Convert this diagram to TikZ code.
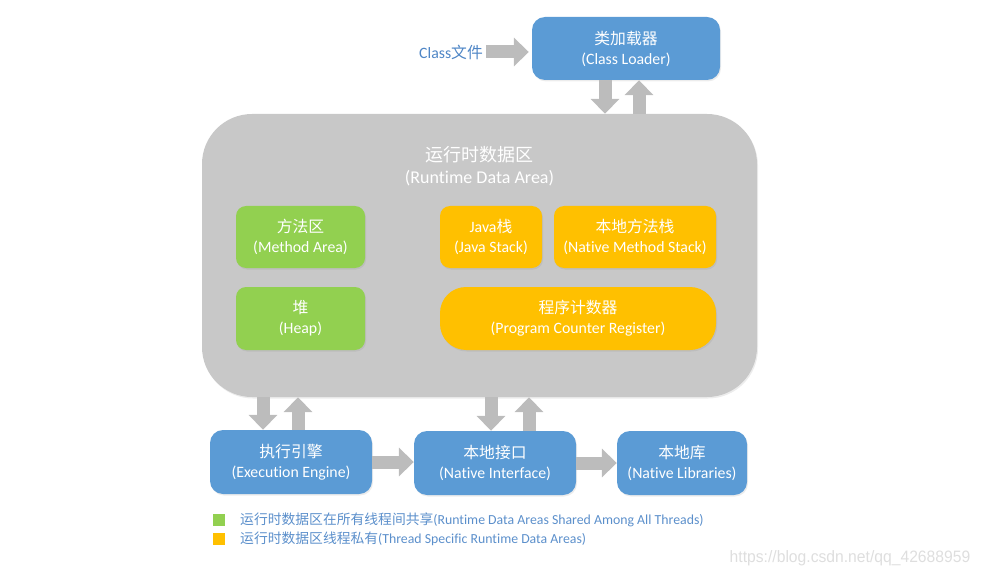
\documentclass[tikz,border=0pt]{standalone}
\usepackage{fontspec}
\setmainfont[Ligatures=CommonOff]{Carlito}
\newfontfamily\cjk{Noto Sans CJK SC}
\newfontfamily\wmfont{Liberation Sans}
\usetikzlibrary{arrows.meta,shadows}
\definecolor{boxblue}{HTML}{5B9BD5}
\definecolor{rdagray}{HTML}{C8C8C8}
\definecolor{boxgreen}{HTML}{92D050}
\definecolor{boxorange}{HTML}{FFC000}
\definecolor{arrowgray}{HTML}{BCBCBC}
\definecolor{labelblue}{HTML}{4F86C6}
\definecolor{legendblue}{HTML}{5B8FCB}
\definecolor{wmgray}{HTML}{DEDEDE}
\begin{document}
\begin{tikzpicture}[x=1pt,y=-1pt,
  box/.style={rounded corners=#1, text=white, align=center, inner sep=0pt,
    font=\fontsize{15.8}{20}\selectfont,
    drop shadow={opacity=0.15, shadow xshift=1pt, shadow yshift=-1.5pt}},
  bluebox/.style={box=13pt, fill=boxblue},
  greenbox/.style={box=10pt, fill=boxgreen},
  orangebox/.style={box=10pt, fill=boxorange},
  barrow/.style={draw=arrowgray, line width=13pt, -{Triangle[length=15pt,width=28pt]}},
  legsq/.style={minimum size=12pt, inner sep=0pt},
  legtext/.style={anchor=west, inner sep=0pt, text=legendblue, font=\fontsize{13.8}{16}\selectfont}
]
\useasboundingbox (0,0) rectangle (981,577);

% Class file label and class loader
\node[bluebox, minimum width=188pt, minimum height=63pt] (cl) at (626,48.5)
  {{\cjk 类加载器}\\(Class Loader)};
\node[anchor=east, inner sep=0pt, text=labelblue, font=\fontsize{15.8}{18}\selectfont] (cf) at (483,52)
  {Class{\cjk 文件}};

% Runtime data area
\node[box=50pt, fill=rdagray, minimum width=555pt, minimum height=283pt] (rda) at (479.5,255.5) {};
\node[text=white, align=center, inner sep=0pt, font=\fontsize{18}{22}\selectfont] (rdat) at (479.5,166)
  {{\cjk 运行时数据区}\\(Runtime Data Area)};

\node[greenbox, minimum width=129pt, minimum height=62pt] (ma) at (300.5,237)
  {{\cjk 方法区}\\(Method Area)};
\node[greenbox, minimum width=129pt, minimum height=63pt] (heap) at (300.5,318.5)
  {{\cjk 堆}\\(Heap)};
\node[orangebox, minimum width=102pt, minimum height=62pt] (js) at (491,237)
  {Java{\cjk 栈}\\(Java Stack)};
\node[orangebox, minimum width=162pt, minimum height=62pt] (nms) at (635,237)
  {{\cjk 本地方法栈}\\(Native Method Stack)};
\node[box=26pt, fill=boxorange, minimum width=276pt, minimum height=63pt] (pc) at (578,318.5)
  {{\cjk 程序计数器}\\(Program Counter Register)};

% Bottom row
\node[bluebox, minimum width=162pt, minimum height=64pt] (ee) at (291,462)
  {{\cjk 执行引擎}\\(Execution Engine)};
\node[bluebox, minimum width=162pt, minimum height=64pt] (ni) at (495,463)
  {{\cjk 本地接口}\\(Native Interface)};
\node[bluebox, minimum width=130pt, minimum height=64pt] (nl) at (682,463)
  {{\cjk 本地库}\\(Native Libraries)};

% Arrows
\draw[barrow] ([xshift=3pt]cf.east) -- ([xshift=-3pt]cf.east -| cl.west);
\draw[barrow] ([xshift=-21pt]cl.south) -- ([xshift=-21pt]cl.south |- rda.north);
\draw[barrow] ([xshift=13pt]cl.south |- rda.north) -- ([xshift=13pt]cl.south);
\draw[barrow] ([xshift=-28pt]ee.north |- rda.south) -- ([xshift=-28pt]ee.north);
\draw[barrow] ([xshift=7pt]ee.north) -- ([xshift=7pt]ee.north |- rda.south);
\draw[barrow] ([xshift=-4pt]ni.north |- rda.south) -- ([xshift=-4pt]ni.north);
\draw[barrow] ([xshift=34pt]ni.north) -- ([xshift=34pt]ni.north |- rda.south);
\draw[barrow] (ee.east) -- (ee.east -| ni.west);
\draw[barrow] (ni.east) -- (ni.east -| nl.west);

% Legend
\node[legsq, fill=boxgreen] (lg1) at (219,520) {};
\node[legsq, fill=boxorange] (lg2) at (219,539) {};
\node[legtext] (lt1) at (240,520)
  {{\cjk 运行时数据区在所有线程间共享}(Runtime Data Areas Shared Among All Threads)};
\node[legtext] (lt2) at (240,539)
  {{\cjk 运行时数据区线程私有}(Thread Specific Runtime Data Areas)};

% Watermark
\node[inner sep=0pt, text=wmgray, xscale=0.95, font=\wmfont\fontsize{16.5}{18}\selectfont] (wm) at (850,558)
  {https://blog.csdn.net/qq\_42688959};
\end{tikzpicture}
\end{document}
